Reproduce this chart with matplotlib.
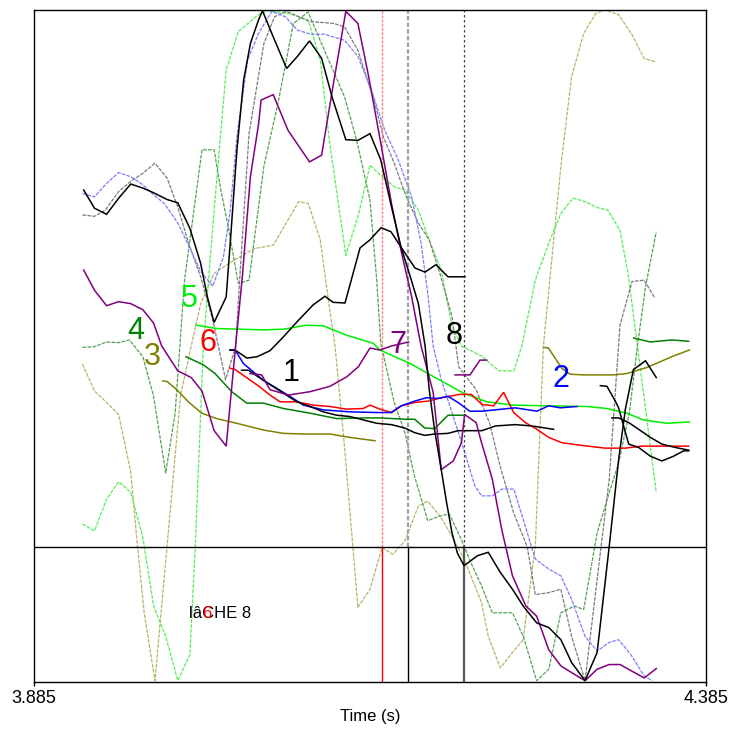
import matplotlib
matplotlib.use('Agg')
import matplotlib.pyplot as plt

plt.rcParams['font.family'] = ['Liberation Sans', 'DejaVu Sans']

# time window (s) and vertical scale (arbitrary units, 0 = bottom of tier, 100 = top)
t_start, t_end = 3.885, 4.385
tier_top = 20.1
boundaries = [4.1439, 4.1633, 4.2053]   # red, gray, dark interval marks
tier_text = 'lâCHE 8'

# ---- dotted contours ----
lime_dot_t = [3.921, 3.930, 3.939, 3.948, 3.957, 3.966, 3.974, 3.983, 3.992, 4.001,
              4.005, 4.011, 4.019, 4.028, 4.037, 4.052, 4.059, 4.076, 4.089, 4.098,
              4.105, 4.117, 4.126, 4.135, 4.143, 4.153, 4.161, 4.171, 4.179, 4.188,
              4.196, 4.203, 4.210, 4.218, 4.231, 4.242, 4.248, 4.258, 4.268, 4.277,
              4.286, 4.295, 4.304, 4.312, 4.321, 4.327, 4.334, 4.341, 4.348]
lime_dot_v = [23.5, 22.5, 27.2, 29.8, 28.2, 21.5, 11.3, 6.8, 0.2, 4.1,
              20.2, 50.0, 70.2, 91.1, 96.8, 99.3, 99.9, 99.4, 98.5, 92.6,
              80.2, 63.5, 69.2, 76.9, 75.4, 73.7, 73.2, 70.2, 65.8, 61.3,
              52.9, 50.0, 49.3, 48.5, 46.3, 46.3, 50.0, 59.8, 65.3, 69.7,
              72.0, 71.5, 70.6, 70.2, 67.2, 60.8, 50.0, 39.1, 28.2]

khaki_dot_t = [3.921, 3.930, 3.939, 3.948, 3.957, 3.962, 3.967, 3.975, 3.984, 3.994,
               4.002, 4.009, 4.019, 4.034, 4.049, 4.063, 4.082, 4.089, 4.098, 4.105,
               4.109, 4.116, 4.126, 4.135, 4.144, 4.152, 4.161, 4.171, 4.178, 4.187,
               4.196, 4.205, 4.218, 4.223, 4.232, 4.241, 4.249, 4.258, 4.264, 4.277,
               4.285, 4.294, 4.303, 4.310, 4.320, 4.330, 4.339, 4.347]
khaki_dot_v = [47.3, 43.3, 41.6, 39.8, 31.2, 20.2, 10.3, 0.2, 20.2, 42.6,
               50.0, 56.3, 60.8, 62.8, 64.5, 65.0, 71.5, 71.2, 65.8, 55.4,
               50.0, 35.1, 11.1, 13.8, 20.0, 19.0, 21.0, 26.2, 26.9, 24.7,
               21.7, 18.3, 11.8, 6.8, 2.1, 4.4, 6.3, 20.2, 50.0, 76.7,
               90.1, 96.5, 99.5, 100.0, 99.3, 96.3, 92.8, 92.3]

sea_dot_t = [3.921, 3.930, 3.939, 3.948, 3.956, 3.966, 3.974, 3.983, 3.990, 3.997,
             4.010, 4.019, 4.024, 4.029, 4.037, 4.045, 4.056, 4.067, 4.078, 4.089,
             4.100, 4.116, 4.125, 4.135, 4.140, 4.143, 4.153, 4.161, 4.168, 4.178,
             4.187, 4.194, 4.203, 4.210, 4.218, 4.226, 4.241, 4.249, 4.259, 4.268,
             4.277, 4.287, 4.294, 4.304, 4.313, 4.320, 4.328, 4.334, 4.340, 4.348]
sea_dot_v = [49.8, 49.9, 50.6, 50.5, 50.9, 48.4, 42.5, 31.1, 40.0, 59.8,
             79.2, 79.2, 73.2, 68.3, 59.3, 59.8, 76.7, 86.6, 98.0, 99.7,
             94.5, 87.1, 80.7, 71.7, 59.8, 50.4, 41.6, 37.1, 30.7, 24.0,
             24.7, 25.0, 21.2, 17.8, 14.3, 10.3, 10.3, 6.8, 0.2, 1.9,
             10.3, 11.3, 10.8, 22.2, 28.2, 32.6, 40.1, 50.0, 58.8, 67.0]

gray_dot_t = [3.921, 3.930, 3.938, 3.948, 3.957, 3.966, 3.975, 3.984, 3.992, 4.000,
              4.009, 4.018, 4.0275, 4.035, 4.038, 4.045, 4.056, 4.064, 4.073, 4.090,
              4.108, 4.116, 4.126, 4.138, 4.145, 4.153, 4.162, 4.171, 4.179, 4.187,
              4.196, 4.201, 4.214, 4.224, 4.232, 4.242, 4.252, 4.258, 4.268, 4.277,
              4.285, 4.295, 4.304, 4.313, 4.321, 4.330, 4.339, 4.347]
gray_dot_v = [69.5, 69.3, 70.2, 73.0, 74.5, 75.7, 77.2, 75.0, 70.7, 65.3,
              60.3, 53.9, 45.0, 49.9, 59.8, 81.6, 95.0, 99.0, 99.8, 98.3,
              98.0, 97.5, 94.0, 86.6, 81.1, 77.2, 72.2, 68.3, 65.8, 60.8,
              54.4, 46.9, 43.5, 38.5, 32.0, 25.1, 20.1, 13.0, 13.3, 13.8,
              6.8, 0.2, 15.3, 30.2, 53.1, 59.6, 59.8, 57.1]

blue_dot_t = [3.921, 3.930, 3.939, 3.948, 3.957, 3.966, 3.974, 3.982, 3.992, 4.000,
              4.009, 4.018, 4.026, 4.031, 4.036, 4.044, 4.052, 4.062, 4.072, 4.081,
              4.091, 4.101, 4.116, 4.126, 4.136, 4.146, 4.156, 4.166, 4.173, 4.178,
              4.182, 4.188, 4.196, 4.204, 4.213, 4.218, 4.226, 4.233, 4.242, 4.249,
              4.258, 4.268, 4.277, 4.285, 4.295, 4.304, 4.313, 4.320, 4.329, 4.339,
              4.345]
blue_dot_v = [72.7, 72.2, 74.2, 75.8, 75.2, 74.0, 72.5, 71.2, 68.3, 65.0,
              61.1, 58.9, 63.3, 70.2, 81.2, 92.6, 96.5, 99.8, 99.0, 97.0,
              96.4, 96.4, 95.5, 93.1, 88.1, 82.1, 77.7, 72.2, 65.3, 57.8,
              50.0, 45.0, 40.1, 35.1, 29.2, 27.7, 27.7, 28.7, 28.7, 24.2,
              18.3, 16.8, 15.8, 12.3, 6.8, 4.6, 5.9, 6.3, 4.1, 0.9,
              0.2]

# ---- solid contours ----
black_big_t = [3.922, 3.930, 3.939, 3.948, 3.957, 3.966, 3.974, 3.984, 3.992, 4.001,
               4.009, 4.014, 4.019, 4.028, 4.031, 4.036, 4.041, 4.046, 4.052, 4.055,
               4.063, 4.073, 4.081, 4.090, 4.099, 4.107, 4.117, 4.126, 4.135, 4.143,
               4.151, 4.158, 4.165, 4.171, 4.176, 4.179, 4.183, 4.188, 4.192, 4.196,
               4.200, 4.205, 4.215, 4.223, 4.232, 4.241, 4.249, 4.259, 4.268, 4.277,
               4.285, 4.295, 4.304, 4.313, 4.320, 4.325, 4.331, 4.340, 4.348]
black_big_v = [73.2, 70.5, 69.6, 72.0, 74.1, 73.5, 72.8, 71.8, 71.3, 67.5,
               62.3, 57.3, 53.5, 57.3, 65.3, 79.2, 89.6, 95.0, 98.5, 99.9,
               96.0, 91.3, 93.1, 95.4, 92.8, 86.9, 80.7, 80.6, 81.6, 77.7,
               70.7, 64.8, 60.3, 56.3, 50.0, 43.6, 37.6, 31.6, 26.7, 22.2,
               19.2, 17.3, 18.8, 19.3, 16.3, 13.8, 11.3, 8.8, 8.1, 6.3,
               2.9, 0.2, 4.4, 20.2, 33.1, 40.6, 46.5, 47.8, 45.3]

black_rise_t = [4.0308, 4.0346, 4.0435, 4.0509, 4.0606, 4.0703, 4.0807, 4.0926, 4.1015, 4.1075,
                4.1164, 4.1276, 4.1350, 4.1432, 4.1506, 4.1581, 4.1685, 4.1759, 4.1841, 4.1930,
                4.2057]
black_rise_v = [49.4, 49.4, 48.2, 48.4, 49.3, 51.3, 53.6, 56.1, 57.4, 56.5,
                56.4, 64.6, 65.8, 67.6, 67.0, 64.7, 61.6, 61.0, 62.1, 60.3,
                60.3]

black_1_t = [4.0395, 4.0445, 4.0556, 4.0705, 4.0805, 4.0904, 4.1003, 4.1102, 4.1201, 4.1300,
             4.1400, 4.1509, 4.1608, 4.1683, 4.1757, 4.1831, 4.1931, 4.2005, 4.2104, 4.2183,
             4.2283, 4.2431, 4.2555, 4.2716]
black_1_v = [46.4, 46.4, 44.9, 43.0, 41.7, 41.0, 40.2, 39.7, 39.5, 39.0,
             38.5, 38.3, 37.8, 37.1, 36.7, 36.9, 37.0, 37.4, 37.4, 37.4,
             38.1, 38.3, 38.1, 37.6]

black_r1_t = [4.3064, 4.3113, 4.3175, 4.3200, 4.3237, 4.3275, 4.3349, 4.3436, 4.3522, 4.3609,
              4.3684, 4.3721]
black_r1_v = [44.1, 44.0, 41.8, 40.8, 38.1, 35.4, 34.9, 33.6, 32.9, 33.6,
              34.4, 34.4]
black_r2_t = [4.3150, 4.3200, 4.3275, 4.3349, 4.3436, 4.3522, 4.3622, 4.3721]
black_r2_v = [39.3, 39.3, 38.6, 37.6, 36.4, 35.4, 34.9, 34.5]

blue_2_t = [4.0308, 4.0346, 4.0408, 4.0556, 4.0755, 4.0854, 4.1003, 4.1201, 4.1400, 4.1509,
            4.1583, 4.1683, 4.1769, 4.1856, 4.1931, 4.2005, 4.2092, 4.2183, 4.2431, 4.2593,
            4.2679, 4.2766, 4.2890]
blue_2_v = [49.4, 49.4, 47.4, 44.9, 42.5, 41.2, 40.5, 40.2, 40.1, 40.1,
            41.1, 41.8, 42.3, 42.2, 42.5, 41.6, 40.3, 40.3, 40.8, 40.3,
            41.1, 40.8, 41.0]

red_6_t = [4.0308, 4.0346, 4.0531, 4.0606, 4.0680, 4.0805, 4.0929, 4.1052, 4.1176, 4.1300,
           4.1350, 4.1424, 4.1509, 4.1583, 4.1683, 4.1782, 4.1881, 4.2017, 4.2104, 4.2183,
           4.2270, 4.2344, 4.2419, 4.2506, 4.2593, 4.2679, 4.2779, 4.2927, 4.3101, 4.3250,
           4.3374, 4.3721]
red_6_v = [46.7, 46.5, 43.9, 42.7, 41.7, 41.7, 41.2, 41.0, 40.6, 40.7,
           41.2, 40.6, 40.1, 41.1, 41.6, 41.8, 42.3, 42.8, 42.8, 41.3,
           41.1, 43.1, 40.1, 38.6, 37.6, 36.4, 35.6, 35.2, 34.8, 34.8,
           35.1, 35.1]

green_5_t = [4.0055, 4.0209, 4.0556, 4.0705, 4.0879, 4.1003, 4.1176, 4.1375, 4.1424, 4.1648,
             4.1871, 4.2044, 4.2218, 4.2416, 4.2665, 4.2962, 4.3111, 4.3260, 4.3384, 4.3558,
             4.3726]
green_5_v = [53.1, 52.6, 52.4, 52.5, 53.1, 53.0, 51.6, 50.4, 49.4, 47.4,
             44.9, 43.0, 41.7, 41.2, 41.1, 41.0, 40.7, 40.0, 39.0, 38.5,
             38.7]

dkgreen_4_t = [3.9981, 4.0110, 4.0197, 4.0321, 4.0433, 4.0556, 4.0705, 4.0904, 4.1102, 4.1300,
               4.1424, 4.1608, 4.1683, 4.1757, 4.1831, 4.1931, 4.2055]
dkgreen_4_v = [48.4, 47.2, 45.9, 43.2, 41.5, 41.5, 40.7, 40.0, 39.2, 39.3,
               39.3, 39.1, 39.1, 37.8, 37.7, 39.7, 39.7]
dkgreen_4b_t = [4.3311, 4.3435, 4.3597, 4.3721]
dkgreen_4b_v = [51.2, 50.6, 50.9, 50.7]

olive_3_t = [3.9808, 3.9842, 3.9912, 3.9998, 4.0098, 4.0209, 4.0358, 4.0556, 4.0705, 4.0854,
             4.1052, 4.1201, 4.1387]
olive_3_v = [44.8, 44.7, 43.5, 41.7, 40.0, 39.2, 38.5, 37.5, 37.0, 36.9,
             36.9, 36.4, 35.9]
olive_3b_t = [4.2645, 4.2677, 4.2727, 4.2776, 4.2838, 4.2937, 4.3160, 4.3260, 4.3409, 4.3607,
              4.3726]
olive_3b_v = [49.8, 49.7, 48.2, 46.7, 45.8, 45.7, 45.7, 45.9, 46.8, 48.5,
              49.4]

purple_big_t = [3.922, 3.930, 3.939, 3.948, 3.957, 3.966, 3.974, 3.980, 3.992, 4.002,
                4.010, 4.019, 4.028, 4.035, 4.040, 4.046, 4.052, 4.054, 4.063, 4.074,
                4.090, 4.099, 4.107, 4.117, 4.126, 4.134, 4.143, 4.151, 4.158, 4.166,
                4.173, 4.182, 4.188, 4.197, 4.203, 4.2054, 4.214, 4.218, 4.226, 4.233,
                4.241, 4.251, 4.259, 4.268, 4.277, 4.285, 4.295, 4.304, 4.313, 4.321,
                4.330, 4.339, 4.348]
purple_big_v = [61.3, 58.3, 56.0, 56.6, 56.3, 55.4, 53.4, 50.0, 46.3, 45.3,
                43.3, 37.4, 35.1, 50.0, 60.3, 75.2, 82.9, 86.6, 87.4, 82.1,
                77.4, 78.4, 88.1, 99.8, 98.0, 90.1, 80.2, 71.2, 64.3, 57.3,
                50.0, 43.1, 31.6, 32.9, 35.6, 39.8, 38.6, 35.6, 30.2, 22.7,
                15.8, 11.3, 9.8, 4.8, 2.4, 1.4, 0.2, 1.9, 2.6, 2.6,
                1.6, 0.6, 2.0]

purple_7_t = [4.0457, 4.0544, 4.0606, 4.0742, 4.0904, 4.1052, 4.1176, 4.1263, 4.1350, 4.1424,
              4.1509, 4.1637]
purple_7_v = [45.9, 45.7, 43.5, 42.7, 43.2, 44.0, 45.4, 46.9, 49.7, 49.4,
              50.0, 50.6]
purple_7b_t = [4.1983, 4.2094, 4.2168, 4.2218]
purple_7b_v = [45.7, 45.7, 47.9, 47.9]

# track number labels: text, time, level, colour
label_text = ['5', '4', '3', '6', '1', '7', '8', '2']
label_t = [4.0003, 3.9609, 3.9732, 4.0141, 4.0766, 4.1555, 4.1977, 4.2770]
label_v = [57.0, 52.2, 48.4, 50.4, 46.0, 50.1, 51.5, 45.1]
label_col = ['#00ee00', '#008000', '#808000', '#ff0000', '#000000', '#800080', '#000000', '#0000ff']

fig = plt.figure(figsize=(7.32, 7.29), dpi=100)
ax = fig.add_axes([34 / 732, 47 / 729, 672 / 732, 672 / 729])

dots = (0, (3, 1))
ax.plot(khaki_dot_t, khaki_dot_v, color='#b4b46a', lw=0.9, ls=dots)
ax.plot(lime_dot_t, lime_dot_v, color='#55ee55', lw=0.9, ls=dots)
ax.plot(sea_dot_t, sea_dot_v, color='#55a055', lw=0.9, ls=dots)
ax.plot(gray_dot_t, gray_dot_v, color='#7a7a7a', lw=0.9, ls=dots)
ax.plot(blue_dot_t, blue_dot_v, color='#7b7bff', lw=0.9, ls=dots)

# interval boundaries: dotted above the tier, solid inside it
ax.plot([boundaries[0]] * 2, [tier_top, 100], color='#ff8080', lw=1.0, ls=(0, (2, 1)))
ax.plot([boundaries[1]] * 2, [tier_top, 100], color='#a0a0a0', lw=1.6, ls=(0, (2, 1)))
ax.plot([boundaries[2]] * 2, [tier_top, 100], color='#444444', lw=0.9, ls=(0, (2, 2)))
ax.plot([boundaries[0]] * 2, [0, tier_top], color='#ff0000', lw=1.0)
ax.plot([boundaries[1]] * 2, [0, tier_top], color='#000000', lw=1.0)
ax.plot([boundaries[2]] * 2, [0, tier_top], color='#555555', lw=1.6)
ax.axhline(tier_top, color='black', lw=1.0)

solid = dict(lw=1.1, solid_joinstyle='miter')
ax.plot(olive_3_t, olive_3_v, color='#808000', **solid)
ax.plot(olive_3b_t, olive_3b_v, color='#808000', **solid)
ax.plot(dkgreen_4_t, dkgreen_4_v, color='#008000', **solid)
ax.plot(dkgreen_4b_t, dkgreen_4b_v, color='#008000', **solid)
ax.plot(green_5_t, green_5_v, color='#00ee00', **solid)
ax.plot(red_6_t, red_6_v, color='#ff0000', **solid)
ax.plot(blue_2_t, blue_2_v, color='#0000ff', **solid)
ax.plot(black_1_t, black_1_v, color='black', **solid)
ax.plot(black_rise_t, black_rise_v, color='black', **solid)
ax.plot(black_r1_t, black_r1_v, color='black', **solid)
ax.plot(black_r2_t, black_r2_v, color='black', **solid)
ax.plot(purple_7_t, purple_7_v, color='#800080', **solid)
ax.plot(purple_7b_t, purple_7b_v, color='#800080', **solid)
ax.plot(purple_big_t, purple_big_v, color='#800080', **solid)
ax.plot(black_big_t, black_big_v, color='black', **solid)

for s, t, v, c in zip(label_text, label_t, label_v, label_col):
    ax.text(t, v, s, color=c, fontsize=22, ha='center', va='center')

# tier label with the overprinted red number
ax.text(4.0234, 10.2, tier_text, fontsize=12, ha='center', va='center', color='black')
ax.text(4.0137, 10.2, '6', fontsize=12, ha='center', va='center', color='#ff0000')

ax.set_xlim(t_start, t_end)
ax.set_ylim(0, 100)
ax.set_yticks([])
ax.set_xticks([t_start, t_end])
ax.set_xticklabels(['3.885', '4.385'], fontsize=13)
ax.tick_params(axis='x', direction='out', length=3, width=1, pad=3)
ax.set_xlabel('Time (s)', fontsize=12, labelpad=1)
for sp in ax.spines.values():
    sp.set_linewidth(1.0)

fig.savefig('out.png', dpi=100)
